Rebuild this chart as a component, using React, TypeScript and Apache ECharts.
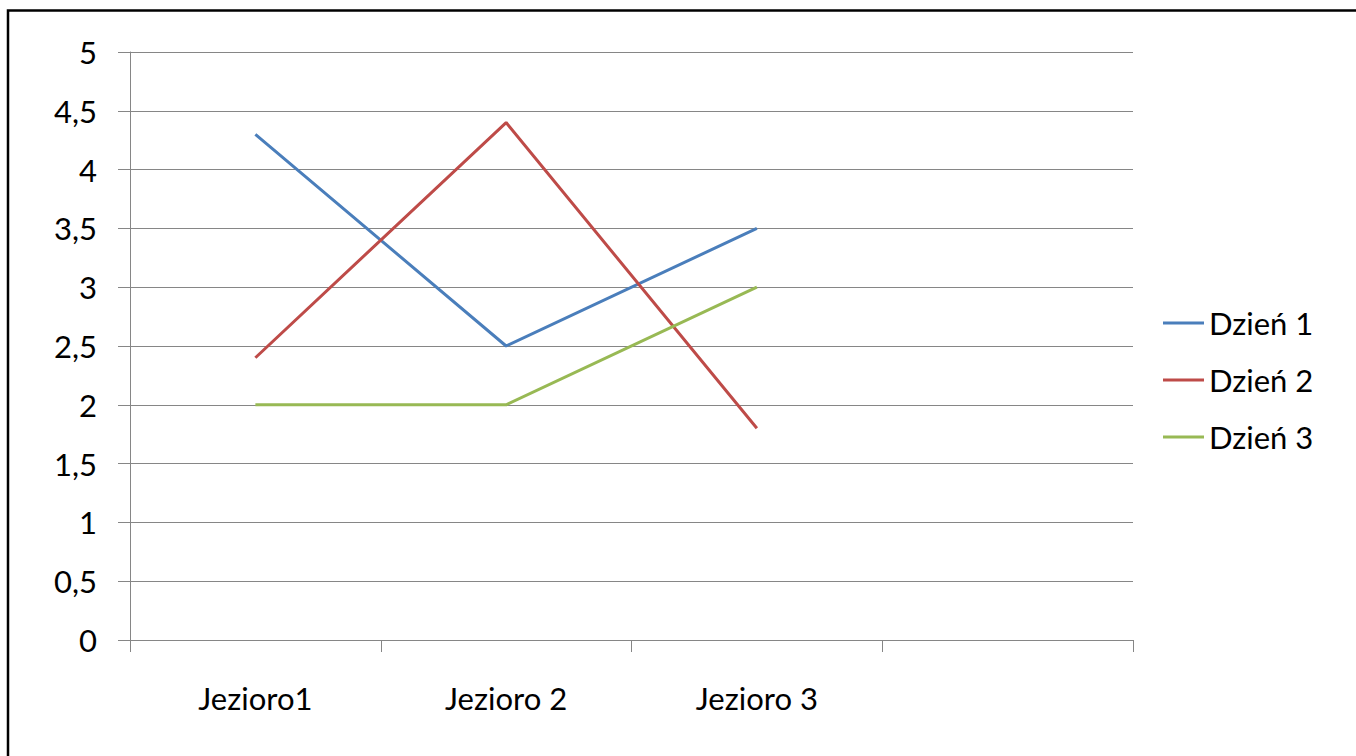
import React, { useEffect, useRef } from "react";
import * as echarts from "echarts";

const categories = ["Jezioro1", "Jezioro 2", "Jezioro 3", ""];
const seriesNames = ["Dzień 1", "Dzień 2", "Dzień 3"];
const dzien1 = [4.3, 2.5, 3.5];
const dzien2 = [2.4, 4.4, 1.8];
const dzien3 = [2, 2, 3];
const colors = ["#4A7EBB", "#BE4B48", "#98B954"];

const FONT = "Lato";
const FS = 31;

export default function App() {
  const ref = useRef<HTMLDivElement>(null);
  useEffect(() => {
    if (!ref.current) return;
    const chart = echarts.init(ref.current, null, { renderer: "svg" });
    const data = [dzien1, dzien2, dzien3];
    chart.setOption({
      animation: false,
      backgroundColor: "#ffffff",
      graphic: [
        {
          type: "rect",
          shape: { x: 8, y: 10.5, width: 1400, height: 800 },
          style: { fill: "none", stroke: "#000", lineWidth: 2.5 },
          z: 100,
        },
      ],
      grid: { left: 130, top: 52, right: 223, bottom: 116 },
      legend: {
        orient: "vertical",
        left: 1163,
        top: 305,
        padding: 0,
        icon: "rect",
        itemWidth: 41,
        itemHeight: 3,
        itemGap: 21,
        data: seriesNames,
        textStyle: { fontFamily: FONT, fontSize: FS, color: "#000", lineHeight: 36 },
      },
      xAxis: {
        type: "category",
        data: categories,
        boundaryGap: true,
        axisLine: { show: true, lineStyle: { color: "#868686", width: 1 } },
        axisTick: { show: true, length: 12, inside: false, lineStyle: { color: "#868686" } },
        axisLabel: { fontFamily: FONT, fontSize: FS, color: "#000", margin: 42 },
        splitLine: { show: false },
      },
      yAxis: {
        type: "value",
        min: 0,
        max: 5,
        interval: 0.5,
        axisLine: { show: true, lineStyle: { color: "#868686", width: 1 } },
        axisTick: { show: true, length: 12, lineStyle: { color: "#868686" } },
        axisLabel: {
          fontFamily: FONT,
          fontSize: FS,
          color: "#000",
          margin: 33,
          formatter: (v: number) => String(v).replace(".", ","),
        },
        splitLine: { show: true, lineStyle: { color: "#868686", width: 1 } },
      },
      series: seriesNames.map((name, i) => ({
        name,
        type: "line",
        data: data[i],
        symbol: "none",
        lineStyle: { color: colors[i], width: 3 },
        itemStyle: { color: colors[i] },
      })),
    });
    return () => chart.dispose();
  }, []);
  return (
    <div
      ref={ref}
      style={{ position: "fixed", left: 0, top: 0, width: 1356, height: 756 }}
    />
  );
}
